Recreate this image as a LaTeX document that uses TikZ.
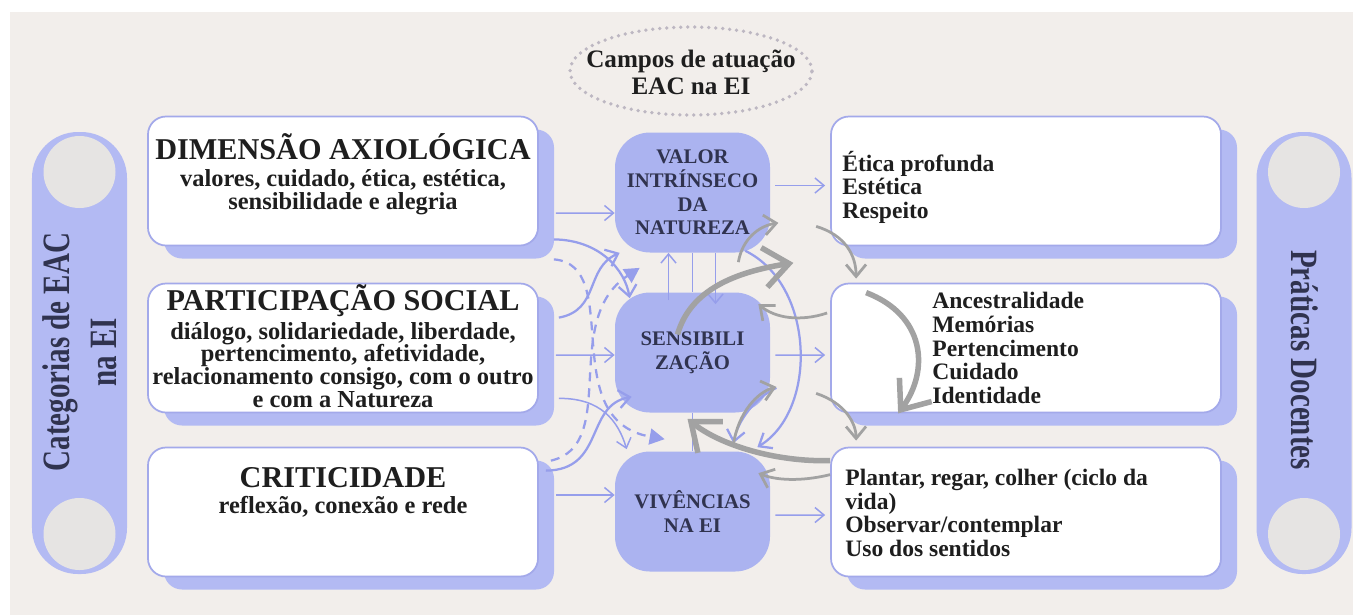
\documentclass[tikz,border=0pt]{standalone}
\usepackage{fontspec}
\setmainfont{Liberation Serif}
\usepackage{graphicx}
\usetikzlibrary{shapes.geometric}
\usetikzlibrary{shadows}
\usetikzlibrary{calc}
\usetikzlibrary{arrows.meta}
\definecolor{bgc}{HTML}{F2EEEB}
\definecolor{lav}{HTML}{B3BAF3}
\definecolor{lavbox}{HTML}{ABB3F0}
\definecolor{lavline}{HTML}{A3A9EA}
\definecolor{arrc}{HTML}{969EEB}
\definecolor{grayc}{HTML}{A2A2A2}
\definecolor{circc}{HTML}{E6E4E3}
\definecolor{navy}{HTML}{30334F}
\definecolor{txtc}{HTML}{1E1E1E}
\definecolor{dotc}{HTML}{BDB7C2}

\tikzset{
  sidebox/.style={rectangle, rounded corners=3.6mm, draw=lavline, line width=0.35mm, fill=white,
    minimum width=78mm, minimum height=25.8mm,
    drop shadow={shadow xshift=3.2mm, shadow yshift=-2.6mm, fill=lav, opacity=1}},
  cbox/.style={rectangle, rounded corners=7mm, fill=lavbox, minimum width=31mm, minimum height=24mm,
    align=center, text=navy, font=\bfseries\fontsize{11.8}{13.4}\selectfont},
  pill/.style={rectangle, rounded corners=9.2mm, fill=lav, minimum width=19mm, minimum height=88.4mm},
  graydisc/.style={circle, fill=circc, minimum size=14.4mm},
  pilltxt/.style={font=\bfseries\fontsize{22}{27}\selectfont, text=navy, align=center},
  dotell/.style={ellipse, draw=dotc, line width=0.75mm, dash pattern=on 0pt off 1.4mm, line cap=round,
    minimum width=48.4mm, minimum height=17.6mm},
  camptxt/.style={font=\bfseries\fontsize{14.3}{15.4}\selectfont, text=txtc, align=center},
  titletxt/.style={font=\bfseries\fontsize{17.2}{20}\selectfont, text=txtc, inner sep=0},
  bodytxt/.style={font=\bfseries\fontsize{13.9}{13}\selectfont, text=txtc, align=center, inner sep=0},
  listtxt/.style={font=\bfseries\fontsize{13.4}{13.4}\selectfont, text=txtc, align=left, anchor=west, inner sep=0},
  lavarr/.style={draw=arrc, line width=0.3mm, -{Straight Barb[length=1.8mm,width=3mm]}},
  lavcurve/.style={draw=arrc, line width=0.45mm, -{Straight Barb[length=2.2mm,width=3.6mm]}},
  lavdash/.style={draw=arrc, line width=0.45mm, dash pattern=on 1.8mm off 1.4mm, -{Triangle[length=3mm,width=3.2mm]}},
  grayarr/.style={draw=grayc, line width=0.55mm, -{Straight Barb[length=2.4mm,width=4mm]}},
  graybig/.style={draw=grayc, line width=1.1mm, -{Straight Barb[length=5mm,width=8mm]}}
}

\begin{document}
\begin{tikzpicture}[x=0.2mm, y=-0.2mm]
\useasboundingbox (0,0) rectangle (1353,615);
\fill[white] (0,0) rectangle (1353,615);
\fill[bgc] (10,12) rectangle (1353,615);

% colunas laterais
\node[pill] (catpill) at (79.5,353) {};
\node[pill] (prapill) at (1304,353) {};
\node[graydisc] (cattop) at (79.5,172) {};
\node[graydisc] (catbot) at (79.5,534) {};
\node[graydisc] (pratop) at (1304,172) {};
\node[graydisc] (prabot) at (1304,534) {};
\node[pilltxt, rotate=90] (cattxt) at (80,352) {\scalebox{0.75}[1]{Categorias de EAC}\\\scalebox{0.75}[1]{na EI}};
\node[pilltxt, rotate=-90] (pratxt) at (1305,360) {\scalebox{0.75}[1]{Práticas Docentes}};

% campos
\node[dotell] (campos) at (691,71) {};
\node[camptxt] (campostxt) at (691,72.5) {Campos de atuação\\EAC na EI};

% categorias
\node[sidebox] (dim) at (343,181) {};
\node[sidebox] (part) at (343,348) {};
\node[sidebox] (crit) at (343,512) {};
\node[titletxt] (dimtitle) at (343,147) {DIMENSÃO AXIOLÓGICA};
\node[bodytxt] (dimbody) at (343,192) {valores, cuidado, ética, estética,\\sensibilidade e alegria};
\node[titletxt] (parttitle) at (343,301) {PARTICIPAÇÃO SOCIAL};
\node[bodytxt] (partbody) at (343,365) {diálogo, solidariedade, liberdade,\\pertencimento, afetividade,\\relacionamento consigo, com o outro\\e com a Natureza};
\node[titletxt] (crittitle) at (343,478) {CRITICIDADE};
\node[bodytxt] (critbody) at (343,507) {reflexão, conexão e rede};

% praticas
\node[sidebox] (etica) at (1026,181) {};
\node[sidebox] (ances) at (1026,348) {};
\node[sidebox] (plantar) at (1026,512) {};
\node[listtxt] (eticatxt) at (842,187) {Ética profunda\\Estética\\Respeito};
\node[listtxt] (ancestxt) at (932,348) {Ancestralidade\\Memórias\\Pertencimento\\Cuidado\\Identidade};
\node[listtxt] (plantartxt) at (845,513) {Plantar, regar, colher (ciclo da\\vida)\\Observar/contemplar\\Uso dos sentidos};

% campos centrais
\node[cbox] (valor) at (692.5,192.5) {VALOR\\INTRÍNSECO\\DA\\NATUREZA};
\node[cbox] (sens) at (692.5,352.5) {SENSIBILI\\ZAÇÃO};
\node[cbox] (viv) at (692.5,511.5) {VIVÊNCIAS\\NA EI};

% setas retas
\draw[lavarr] ($(dim.east)+(17,32)$) -- ($(valor.west)+(0,20.5)$);
\draw[lavarr] ($(part.east)+(17,7)$) -- ($(sens.west)+(0,2.5)$);
\draw[lavarr] ($(crit.east)+(17,-17)$) -- ($(viv.west)+(0,-16.5)$);
\draw[lavarr] ($(valor.east)+(5,-7)$) -- ($(etica.west)+(-5,4.5)$);
\draw[lavarr] ($(sens.east)+(5,2.5)$) -- ($(ances.west)+(-5,7)$);
\draw[lavarr] ($(viv.east)+(5,3.5)$) -- ($(plantar.west)+(-5,3)$);
\draw[lavarr] ($(sens.north)+(-24,8)$) -- ($(valor.south)+(-24,0)$);
\draw[draw=arrc, line width=0.3mm] (sens.north) -- (valor.south);
\draw[lavarr] ($(valor.south)+(23,0)$) -- ($(sens.north)+(23,12)$);
\draw[draw=arrc, line width=0.3mm] (sens.south) -- (viv.north);

% curvas a esquerda
\draw[lavcurve] ($(dim.south east)+(15,-7)$) .. controls (600,240) and (625,270) .. ($(sens.north west)+(15,6)$);
\draw[lavcurve] ($(part.north east)+(20,35)$) .. controls (600,310) and (585,268) .. ($(valor.south west)+(5,0)$);
\draw[lavdash] ($(dim.south east)+(15,13)$) .. controls (625,265) and (555,420) .. ($(viv.north west)+(50,-12)$);
\draw[lavdash] ($(crit.north east)+(12,14)$) .. controls (620,445) and (560,320) .. ($(valor.south west)+(25,15)$);
\draw[lavcurve] ($(crit.north east)+(7,24)$) .. controls (605,470) and (585,405) .. ($(sens.south west)+(17,-16)$);
\draw[lavarr] ($(part.south east)+(20,-15)$) .. controls (600,398) and (618,420) .. ($(viv.north west)+(12,-2)$);

% curvas a direita
\draw[lavcurve] ($(valor.south east)+(-25,-2)$) .. controls (815,285) and (818,410) .. ($(viv.north east)+(-13,-4)$);
\draw[lavcurve] ($(sens.south east)+(6,-25)$) .. controls (755,398) and (738,420) .. ($(viv.north east)+(-37,-8)$);
\draw[grayarr] ($(sens.north east)+(-32,-30)$) .. controls (742,240) and (758,226) .. ($(valor.south east)+(8,-30)$);
\draw[grayarr] ($(viv.north east)+(-37,-6)$) .. controls (738,412) and (758,392) .. ($(sens.south east)+(6,-26)$);
\draw[graybig] ($(sens.center)+(-15,-18)$) .. controls (690,290) and (735,272) .. ($(valor.south east)+(23,10)$);
\draw[grayarr] ($(ances.west)+(-3,-35)$) .. controls (800,322) and (775,318) .. ($(sens.north east)+(-12,12)$);
\draw[graybig] ($(plantar.north west)+(0,14)$) .. controls (775,462) and (720,445) .. ($(sens.south)+(-5,6)$);
\draw[grayarr] ($(plantar.north west)+(0,28)$) .. controls (800,482) and (775,480) .. ($(viv.north east)+(-12,22)$);
\draw[grayarr] ($(etica.south west)+(-14,-20)$) .. controls (845,235) and (856,255) .. ($(ances.north west)+(26,-4)$);
\draw[grayarr] ($(ances.south west)+(-14,-20)$) .. controls (845,403) and (856,423) .. ($(plantar.north west)+(26,-6)$);
\draw[graybig] ($(ances.north west)+(36,10)$) .. controls (925,315) and (930,370) .. ($(ances.south west)+(68,0)$);
\end{tikzpicture}
\end{document}
